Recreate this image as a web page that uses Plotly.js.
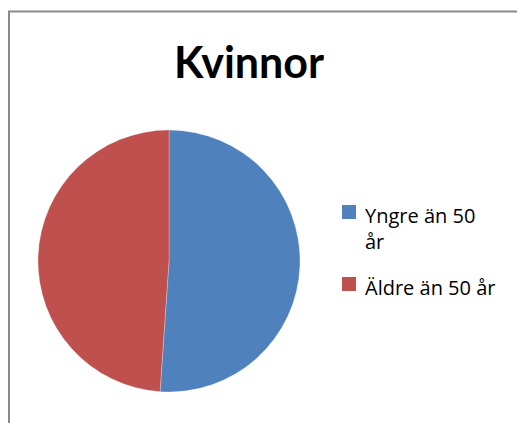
<!DOCTYPE html>
<html>
<head>
<meta charset="utf-8">
<script src="https://cdn.plot.ly/plotly-3.0.1.min.js"></script>
<style>
html,body{margin:0;padding:0;background:#fff;}
#chart{width:517px;height:423px;}
</style>
</head>
<body>
<div id="chart"></div>
<script>
var categories = ["Yngre än 50<br>år", "Äldre än 50 år"];
var values = [47, 45];
var colors = ["#4F81BD", "#C0504D"];
var titleText = "Kvinnor";

var W = 517, H = 423;
var trace = {
  type: "pie",
  labels: categories,
  values: values,
  sort: false,
  direction: "clockwise",
  rotation: 0,
  textinfo: "none",
  hoverinfo: "label+percent",
  marker: {colors: colors, line: {color: "rgba(255,255,255,0.5)", width: 0.5}},
  domain: {x: [38/W, 300/W], y: [1 - 392/H, 1 - 130/H]}
};

// legend drawn as annotations + squares (layout positions only)
var legendTops = [205, 277];   // top of each legend square, px
var sq = 14;
var annotations = [];
var shapes = [
  {type: "line", xref: "paper", yref: "paper", x0: 9/W, x1: 9/W, y0: -0.01, y1: 1 - 11/H, line: {color: "#8a8a8a", width: 2}},
  {type: "line", xref: "paper", yref: "paper", x0: 8/W, x1: 1.01, y0: 1 - 11.5/H, y1: 1 - 11.5/H, line: {color: "#8a8a8a", width: 2}}
];
categories.forEach(function (c, i) {
  var t = legendTops[i];
  shapes.push({type: "rect", xref: "paper", yref: "paper",
    x0: 342/W, x1: (342 + sq)/W, y0: 1 - t/H, y1: 1 - (t + sq)/H,
    fillcolor: colors[i], line: {width: 0}});
  annotations.push({xref: "paper", yref: "paper", x: 363/W, y: 1 - (t - 5)/H,
    xanchor: "left", yanchor: "top", align: "left", showarrow: false,
    text: c, font: {family: "'Open Sans', sans-serif", size: 20, color: "#000"}});
});

var layout = {
  width: W, height: H,
  margin: {l: 0, r: 0, t: 0, b: 0},
  paper_bgcolor: "#fff",
  title: {
    text: "<b>" + titleText + "</b>",
    font: {family: "Lato, 'Open Sans', sans-serif", size: 43, color: "#000"},
    x: 249/W, xanchor: "center",
    y: 1 - 63/H, yanchor: "middle"
  },
  showlegend: false,
  shapes: shapes,
  annotations: annotations
};
Plotly.newPlot("chart", [trace], layout, {displayModeBar: false, staticPlot: true});
</script>
</body>
</html>
